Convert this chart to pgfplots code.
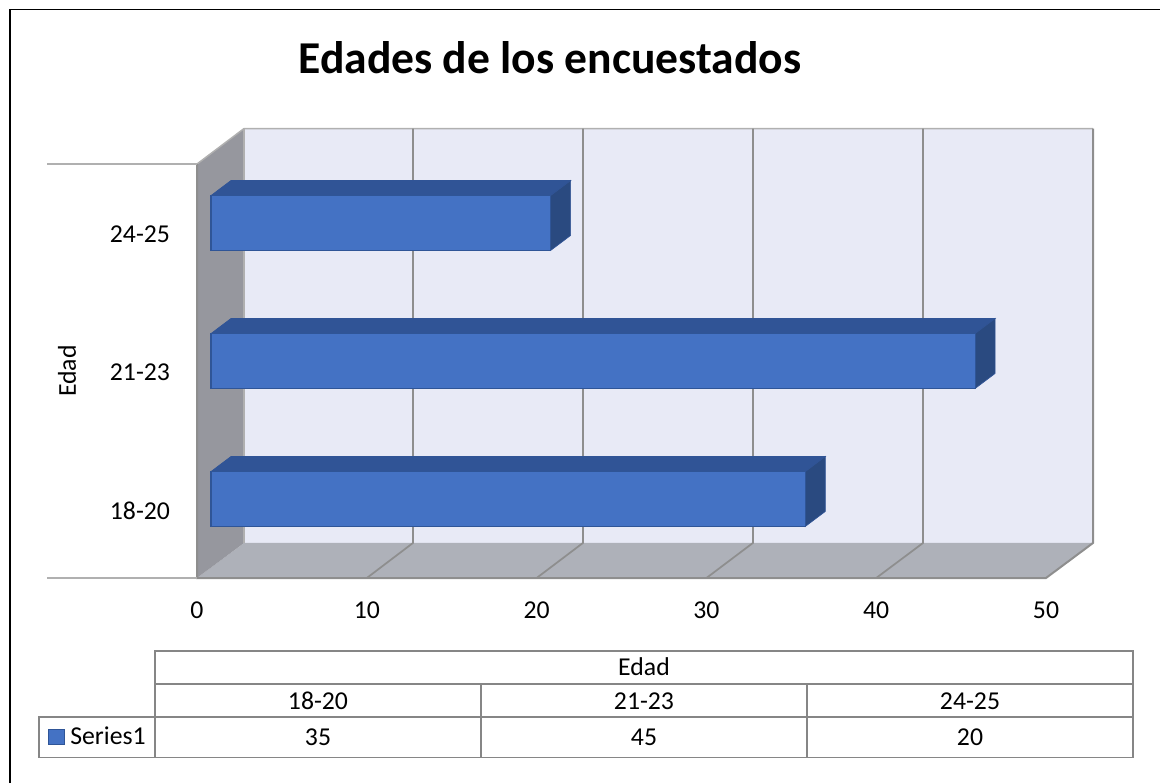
\documentclass[border=0pt]{standalone}
\usepackage{pgfplots}
\usepackage{fontspec}
\setmainfont{Carlito}
\pgfplotsset{compat=1.18}
\definecolor{barfront}{HTML}{4472C4}
\definecolor{bartop}{HTML}{305496}
\definecolor{barside}{HTML}{2A4A80}
\definecolor{baredge}{HTML}{2F5597}
\definecolor{wallback}{HTML}{E8EAF6}
\definecolor{wallleft}{HTML}{96979E}
\definecolor{wallfloor}{HTML}{AEB1B9}
\definecolor{gridgrey}{HTML}{8E8E8E}
\definecolor{edgegrey}{HTML}{B0B0B0}
\definecolor{tablegrey}{HTML}{868686}
\newcommand{\labelfont}{\fontsize{19.3}{23}\selectfont}
\begin{document}
\begin{tikzpicture}
% canvas in screen units: origin top left, y downwards
\begin{scope}[x=0.75pt,y=-0.75pt]
\path[use as bounding box] (0,0) rectangle (1160,783);
\draw[black,line width=1.2pt] (10,783) -- (10,9.5) -- (1160,9.5);
\end{scope}
\begin{axis}[
  at={(147.75pt,-433.5pt)},anchor=south west,
  scale only axis,width=636.75pt,height=310.5pt,
  xmin=0,xmax=50,ymin=-0.5,ymax=2.5,clip=false,
  axis line style={draw=none},tick style={draw=none},
  xtick={0,10,20,30,40,50},
  ytick={0,1,2},yticklabels={18-20,21-23,24-25},
  /pgf/number format/assume math mode=true,
  tick label style={font=\labelfont},
  xticklabel style={yshift=-14.5pt},
  yticklabel style={xshift=-16.75pt,yshift=-1pt},
  ylabel={Edad},
  ylabel style={at={(axis description cs:-0.1531,0.5)},anchor=center,font=\labelfont},
  title={Edades de los encuestados},
  title style={at={(axis description cs:0.4158,1.2373)},anchor=center,font=\bfseries\fontsize{34.2}{40}\selectfont},
]
% back wall, left wall and floor of the box
\addplot[fill=wallback,draw=none] coordinates {(2.77,-0.246)(52.77,-0.246)(52.77,2.757)(2.77,2.757)} --cycle;
\addplot[fill=wallfloor,draw=none] coordinates {(0,-0.5)(50,-0.5)(52.77,-0.246)(2.77,-0.246)} --cycle;
\addplot[fill=wallleft,draw=none] coordinates {(0,-0.5)(2.77,-0.246)(2.77,2.757)(0,2.5)} --cycle;
\addplot[edgegrey,line width=1.1pt] coordinates {(0,2.5)(2.77,2.757)(52.77,2.757)};
\addplot[edgegrey,line width=1.1pt] coordinates {(2.77,2.757)(2.77,-0.246)};
% gridlines across the floor and up the back wall
\addplot[gridgrey,line width=1.3pt] coordinates {(10,-0.5)(12.72,-0.246)(12.72,2.757)};
\addplot[gridgrey,line width=1.3pt] coordinates {(20,-0.5)(22.73,-0.246)(22.73,2.757)};
\addplot[gridgrey,line width=1.3pt] coordinates {(30,-0.5)(32.74,-0.246)(32.74,2.757)};
\addplot[gridgrey,line width=1.3pt] coordinates {(40,-0.5)(42.76,-0.246)(42.76,2.757)};
\addplot[gridgrey,line width=1.5pt] coordinates {(0,2.5)(0,-0.5)(50,-0.5)(52.77,-0.246)(52.77,2.757)};
% category separators running out to the labels
\addplot[edgegrey,line width=1.1pt] coordinates {(-8.83,2.5)(0,2.5)};
\addplot[edgegrey,line width=1.1pt] coordinates {(-8.83,-0.5)(0,-0.5)};
% bar tops and ends, in front of the wall
\begin{scope}[shift={(5.25pt,3.75pt)}]
\addplot[fill=bartop,draw=bartop,line width=0.5pt] coordinates {(0,0.199)(35,0.199)(36.178,0.308)(1.178,0.308)} --cycle;
\addplot[fill=barside,draw=bartop,line width=0.5pt] coordinates {(35,-0.199)(36.178,-0.09)(36.178,0.308)(35,0.199)} --cycle;
\addplot[fill=bartop,draw=bartop,line width=0.5pt] coordinates {(0,1.199)(45,1.199)(46.178,1.308)(1.178,1.308)} --cycle;
\addplot[fill=barside,draw=bartop,line width=0.5pt] coordinates {(45,0.801)(46.178,0.91)(46.178,1.308)(45,1.199)} --cycle;
\addplot[fill=bartop,draw=bartop,line width=0.5pt] coordinates {(0,2.199)(20,2.199)(21.178,2.308)(1.178,2.308)} --cycle;
\addplot[fill=barside,draw=bartop,line width=0.5pt] coordinates {(20,1.801)(21.178,1.91)(21.178,2.308)(20,2.199)} --cycle;
% bar front faces
\addplot[xbar,bar shift=0pt,bar width=41.25pt,fill=barfront,draw=baredge,line width=0.9pt] coordinates {(35,0)(45,1)(20,2)};
\end{scope}
\end{axis}
% data table below the plot
\begin{scope}[x=0.75pt,y=-0.75pt]
\draw[tablegrey,line width=1.4pt]
  (155,651) rectangle (1133,757.5)
  (155,684) -- (1133,684)
  (155,717) -- (1133,717)
  (481,684) -- (481,757.5)
  (807,684) -- (807,757.5)
  (39,717) rectangle (155,757.5);
\fill[barfront,draw=baredge,line width=0.4pt] (48.5,729) rectangle (64,744);
\path[font=\labelfont,text=black]
  (644,667) node {Edad}
  (318,701) node {18-20}
  (644,701) node {21-23}
  (970,701) node {24-25}
  (318,737) node {35}
  (644,737) node {45}
  (970,737) node {20}
  (70,736) node[anchor=west,inner sep=0pt] {Series1};
\end{scope}
\end{tikzpicture}
\end{document}
